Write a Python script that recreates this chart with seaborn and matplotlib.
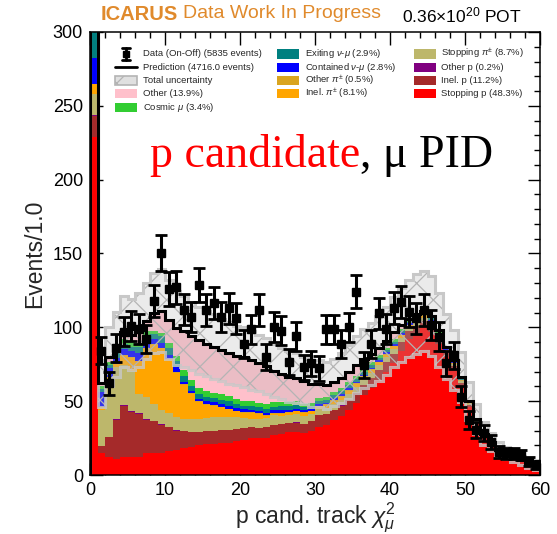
import numpy as np
import pandas as pd
import matplotlib
matplotlib.use("Agg")
import matplotlib.pyplot as plt
import seaborn as sns
from matplotlib.patches import Rectangle
from matplotlib.lines import Line2D
from matplotlib.ticker import MultipleLocator

# ---------------- data ----------------
bin_edges = np.arange(0, 61, 1)

stopping_p = [229, 15, 12, 10.5, 12, 12, 12.5, 15, 15, 15, 16, 17, 18.5, 19, 20.5, 21, 21, 22, 22, 23,
              24, 25, 25, 25, 27, 28, 29, 29, 28.6, 30, 32.3, 33.8, 37.2, 40, 44, 48.5, 54, 58.7, 64.3, 70,
              75.6, 84, 92, 96, 100, 97, 89, 80, 72, 61, 46, 35, 26, 20.5, 15.8, 13.5, 11.4, 9.3, 6.5, 4.6]
inel_p = [14, 4.5, 13.5, 27, 35, 31, 29, 22.5, 21.5, 19, 16.5, 13, 11, 10, 8.5, 8.5, 9, 8.5, 8.5, 8,
          7.5, 7.5, 7, 7.5, 7, 6.5, 6.2, 6.5, 6, 6.5, 8, 7.5, 7, 7, 7, 7, 7, 7, 6.5, 6.5,
          6.5, 6, 5.5, 5, 4.5, 4, 3.5, 2.5, 2, 1.5, 1.2, 1, 0.7, 0.5, 0.4, 0.3, 0.3, 0.2, 0.2, 0.1]
other_p = [1.0, 0.2, 0.4, 0.5, 0.5, 0.4, 0.4, 0.3, 0.3, 0.3, 0.3, 0.3, 0.3, 0.2, 0.2, 0.1, 0.1, 0.1, 0.1, 0.1,
           0.1, 0.1, 0.1, 0.1, 0.1, 0.1, 0.1, 0.1, 0.1, 0.1, 0.1, 0.1, 0.1, 0.1, 0.1, 0.1, 0.1, 0.1, 0.1, 0.1,
           0.1, 0.1, 0.1, 0.1, 0.1, 0.1, 0.1, 0.1, 0.1, 0.1, 0.1, 0.1, 0.1, 0.1, 0.1, 0.1, 0.1, 0.1, 0.1, 0.1]
stopping_pi = [14, 24, 38, 35, 27, 27, 13, 15, 11.5, 9.5, 9, 9, 8, 8.4, 8.4, 9, 9, 9, 8.5, 8,
               7, 5.5, 5.5, 6, 6.5, 5.5, 5.3, 6, 5, 4.5, 4, 4, 4, 4, 4, 4, 3.5, 3.5, 3.5, 3.3,
               3.3, 3, 2.5, 2.3, 2, 2, 1.5, 1.2, 1, 0.8, 0.6, 0.5, 0.3, 0.3, 0.2, 0.2, 0.2, 0.1, 0.1, 0.1]
inel_pi = [6.5, 2, 2, 2, 6, 9, 22, 33, 40, 42, 36, 30, 23, 17.5, 11.7, 9, 7.9, 6.2, 5.5, 4,
           3.6, 4, 3.7, 1.5, 1, 1.5, 1.5, 1.5, 2.6, 2, 2, 2, 2, 2, 2, 2, 1.8, 1.8, 1.8, 1.7,
           1.7, 1.6, 1.4, 1.3, 1.2, 1.2, 1, 0.8, 0.6, 0.5, 0.4, 0.3, 0.2, 0.2, 0.1, 0.1, 0.1, 0.1, 0.1, 0]
other_pi = [0.5, 0.3, 0.3, 0.3, 0.5, 0.5, 0.5, 0.5, 0.5, 0.5, 0.5, 0.5, 0.5, 0.5, 0.5, 0.4, 0.4, 0.4, 0.4, 0.4,
            0.4, 0.4, 0.4, 0.4, 0.4, 0.4, 0.4, 0.4, 0.4, 0.4, 0.4, 0.4, 0.4, 0.4, 0.4, 0.4, 0.4, 0.4, 0.4, 0.4,
            0.4, 0.4, 0.4, 0.4, 0.4, 0.3, 0.3, 0.3, 0.2, 0.2, 0.2, 0.1, 0.1, 0.1, 0.1, 0.1, 0, 0, 0, 0]
contained_numu = [17.5, 10, 6, 4, 4, 4, 5, 4, 3, 3, 3, 3, 2, 1.5, 1.8, 1.8, 1.8, 1.8, 1.8, 1.8,
                  1.8, 1.8, 1.6, 1.8, 1.7, 1.7, 1.7, 1.2, 1.4, 1.3, 1.2, 1.2, 1.2, 1.2, 1.2, 1.2, 1.1, 1.1, 1.1, 1,
                  1, 1, 0.8, 0.7, 0.6, 0.6, 0.5, 0.4, 0.4, 0.3, 0.3, 0.2, 0.1, 0.1, 0.1, 0.1, 0.1, 0, 0, 0]
exiting_numu = [25, 2, 2, 3, 4, 3, 4, 4, 3.5, 4.5, 4.5, 4.5, 4, 3, 3.5, 3, 3, 3, 3, 3,
                2.5, 2.5, 2.5, 2.5, 2.5, 3, 2.5, 2.5, 2, 2, 2, 2, 2, 2, 2, 2, 1.8, 1.8, 1.8, 1.6,
                1.6, 1.5, 1.2, 1, 0.8, 0.8, 0.6, 0.5, 0.4, 0.4, 0.3, 0.2, 0.2, 0.1, 0.1, 0.1, 0.1, 0.1, 0, 0]
cosmic_mu = [10, 2, 2, 2, 3, 3, 3, 3, 2.5, 2.5, 3.5, 3.5, 4, 4, 4, 4, 3.5, 4, 4, 3.5,
             3, 3, 3, 3, 3, 3, 3, 3, 2, 2, 2, 2, 2, 2, 2, 2, 1.8, 1.8, 1.8, 1.6,
             1.6, 1.5, 1.2, 1, 0.8, 0.8, 0.6, 0.5, 0.4, 0.4, 0.3, 0.2, 0.1, 0.1, 0.1, 0.1, 0, 0, 0, 0]
other = [25, 2, 4, 4, 5, 5, 9, 7, 12, 15, 16, 19, 26, 30, 32, 32, 31, 29.5, 28.5, 29,
         30, 28, 27, 26, 21.5, 19, 17, 15.5, 15.7, 13, 9.8, 7.8, 6.9, 7.1, 7.1, 7.6, 7.3, 5.6, 4.5, 4.6,
         5, 2.7, 0.8, 1.1, 0.5, 1, 0.9, 0.7, 0.8, 0.9, 0.7, 0.4, 0.2, 0.2, 0.2, 0.1, 0.1, 0.2, 0.1, 0.2]

data_counts = [800, 84, 62, 86, 97, 101, 99, 92, 118, 150.5, 126, 127, 112, 107, 128.6, 111.7, 116.7, 107, 112.8, 106,
               89, 98.6, 111.7, 80, 100.4, 97.7, 76.7, 94, 73, 75.6, 72.2, 98.6, 98.6, 89, 100, 124, 74.5, 89, 109.5, 99,
               113, 117, 110.6, 106, 111.7, 101.6, 93.6, 75.6, 81, 53, 37, 30.5, 28.4, 22.6, 15.8, 14.7, 14.7, 13.5, 9, 6.8]
total_unc = [40, 16, 20, 22, 24, 24, 25, 26, 27, 28, 27, 25, 24, 23, 23, 22, 22, 21, 21, 20,
             20, 20, 19, 19, 18, 17, 17, 17, 16, 16, 16, 16, 16, 17, 18, 19, 20, 21, 22, 23,
             24, 25, 26, 27, 27, 27, 25, 22, 20, 17, 13, 10, 8, 6, 5, 4, 3.5, 3, 2.2, 1.6]

# top of stack first (as in legend)
labels = ["Other (13.9%)", "Cosmic $\\mu$ (3.4%)", "Exiting $\\nu$-$\\mu$ (2.9%)",
          "Contained $\\nu$-$\\mu$ (2.8%)", "Other $\\pi^{\\pm}$ (0.5%)", "Inel. $\\pi^{\\pm}$ (8.1%)",
          "Stopping $\\pi^{\\pm}$ (8.7%)", "Other p (0.2%)", "Inel. p (11.2%)", "Stopping p (48.3%)"]
series = [other, cosmic_mu, exiting_numu, contained_numu, other_pi, inel_pi,
          stopping_pi, other_p, inel_p, stopping_p]
colors = ["#ffc0cb", "#32cd32", "#008080", "#0000ff", "#daa520", "#ffa500",
          "#bdb76b", "#800080", "#a52a2a", "#ff0000"]

centers = bin_edges[:-1] + 0.5
df = pd.DataFrame({
    "x": np.tile(centers, len(series)),
    "w": np.concatenate([np.asarray(s, float) for s in series]),
    "comp": np.repeat(labels, len(centers)),
})
prediction = np.sum([np.asarray(s, float) for s in series], axis=0)
data_arr = np.asarray(data_counts, float)
unc = np.asarray(total_unc, float)

# ---------------- style ----------------
sns.set_style("ticks")
plt.rcParams["font.family"] = ["Liberation Sans", "DejaVu Sans"]
plt.rcParams["mathtext.fontset"] = "custom"
plt.rcParams["mathtext.rm"] = "Liberation Sans"
plt.rcParams["mathtext.it"] = "Liberation Sans:italic"
plt.rcParams["mathtext.bf"] = "Liberation Sans:bold"
plt.rcParams["hatch.linewidth"] = 0.9

W, H = 557, 534
fig = plt.figure(figsize=(W / 100, H / 100), dpi=100)
ax = fig.add_axes([90 / W, 1 - 475 / H, 450 / W, 443 / H])

sns.histplot(data=df, x="x", weights="w", hue="comp", hue_order=labels,
             palette=dict(zip(labels, colors)), multiple="stack", bins=60, binrange=(0, 60),
             element="step", fill=True, alpha=1, linewidth=0, legend=False, ax=ax)

# uncertainty band
lo = np.r_[prediction - unc, (prediction - unc)[-1]]
hi = np.r_[prediction + unc, (prediction + unc)[-1]]
ax.fill_between(bin_edges, lo, hi, step="post", facecolor=(0.72, 0.72, 0.72, 0.28),
                edgecolor="#b4b4b4", hatch="x", linewidth=0, zorder=3)
ax.stairs(prediction + unc, bin_edges, color="#c8c8c8", lw=2.2, zorder=3)
ax.stairs(prediction - unc, bin_edges, color="#c8c8c8", lw=2.2, zorder=3, alpha=0.8)
ax.stairs(prediction, bin_edges, color="black", lw=2.2, zorder=4)

ax.errorbar(centers, data_arr, yerr=np.sqrt(data_arr), fmt="s", color="black",
            ms=5.2, elinewidth=2.2, capsize=4.5, capthick=2, zorder=5)

ax.set_xlim(0, 60)
ax.set_ylim(0, 300)
ax.xaxis.set_major_locator(MultipleLocator(10))
ax.xaxis.set_minor_locator(MultipleLocator(2))
ax.yaxis.set_major_locator(MultipleLocator(50))
ax.yaxis.set_minor_locator(MultipleLocator(10))
ax.tick_params(which="both", direction="in", top=True, right=True, colors="black")
ax.tick_params(which="major", length=9, width=1, labelsize=13, pad=5)
ax.tick_params(which="minor", length=4.5, width=1)
for s in ax.spines.values():
    s.set_linewidth(1.1)
    s.set_color("black")
ax.set_xlabel(r"p cand. track $\chi^2_\mu$", fontsize=16.5, labelpad=1.5)
ax.set_ylabel("Events/1.0", fontsize=16.5, labelpad=5)

# ---------------- header texts ----------------
def fx(px):
    return px / W

def fy(py):
    return 1 - py / H

orange = "#e08a2c"
t_ic = fig.text(fx(101), fy(14), "ICARUS", color=orange, fontsize=14.5, fontweight="bold", va="center")
fig.canvas.draw()
r = fig.canvas.get_renderer()
bb = t_ic.get_window_extent(r)
fig.text(bb.x1 / W + 0.008, fy(14), "Data Work In Progress", color=orange, fontsize=14, va="center")
fig.text(fx(402), fy(15), r"0.36$\times$10$^{20}$ POT", color="black", fontsize=12.5, va="center")

t_p = fig.text(fx(150), fy(167), "p candidate", color="red", fontsize=33,
               family="Liberation Serif", va="baseline")
bb = t_p.get_window_extent(r)
fig.text(bb.x1 / W, fy(167), ", \u03bc PID", color="black", fontsize=33,
         family="Liberation Serif", va="baseline")

# ---------------- legend (manual, ROOT-like 3 columns) ----------------
rows = [54, 67.3, 80.6, 93.9, 107.2]
fs_leg = 6.8

def box(x0, yc, color, hatch=None, edge=None):
    rect = Rectangle((fx(x0), fy(yc + 4.5)), 22 / W, 9 / H, transform=fig.transFigure,
                     facecolor=color, edgecolor=edge if edge else color, hatch=hatch,
                     lw=1.2 if edge else 0)
    fig.add_artist(rect)

def label(x0, yc, txt):
    fig.text(fx(x0), fy(yc), txt, fontsize=fs_leg, va="center", ha="left")

# column 1
x1h, x1t = 115, 143
yc = rows[0]
fig.add_artist(Line2D([fx(126), fx(126)], [fy(yc - 6), fy(yc + 6)], color="black", lw=2, transform=fig.transFigure))
fig.add_artist(Line2D([fx(122), fx(130)], [fy(yc - 6), fy(yc - 6)], color="black", lw=2, transform=fig.transFigure))
fig.add_artist(Line2D([fx(122), fx(130)], [fy(yc + 6), fy(yc + 6)], color="black", lw=2, transform=fig.transFigure))
fig.add_artist(Line2D([fx(126)], [fy(yc)], marker="s", ms=5, color="black", transform=fig.transFigure))
label(x1t, yc, "Data (On-Off) (5835 events)")
yc = rows[1]
fig.add_artist(Line2D([fx(x1h), fx(x1h + 22)], [fy(yc), fy(yc)], color="black", lw=2, transform=fig.transFigure))
label(x1t, yc, "Prediction (4716.0 events)")
yc = rows[2]
box(x1h, yc, (0.88, 0.88, 0.88), hatch="x", edge="#b4b4b4")
label(x1t, yc, "Total uncertainty")
box(x1h, rows[3], colors[0]); label(x1t, rows[3], labels[0])
box(x1h, rows[4], colors[1]); label(x1t, rows[4], labels[1])

# column 2
x2h, x2t = 277, 305
for i, k in enumerate([2, 3, 4, 5]):
    box(x2h, rows[i], colors[k]); label(x2t, rows[i], labels[k])

# column 3
x3h, x3t = 414, 441
for i, k in enumerate([6, 7, 8, 9]):
    box(x3h, rows[i], colors[k]); label(x3t, rows[i], labels[k])

fig.savefig("out.png", dpi=100)
